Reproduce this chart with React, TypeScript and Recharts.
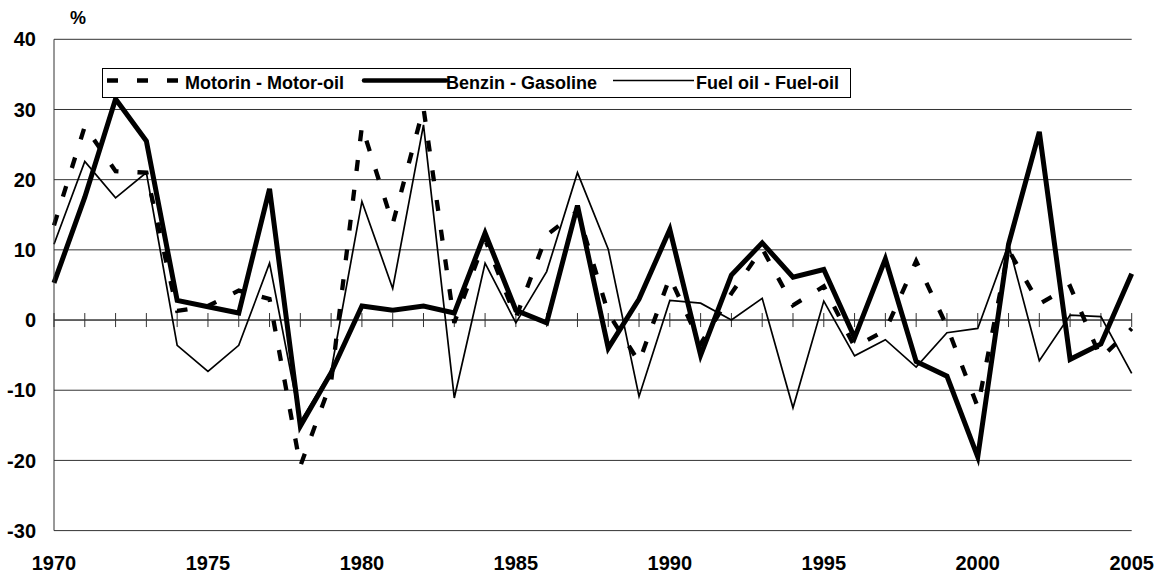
import { LineChart, Line, XAxis, YAxis, CartesianGrid, ReferenceLine, Legend, Label } from "recharts";

const FONT = '"Liberation Sans", Arial, sans-serif';

const years = [
  1970, 1971, 1972, 1973, 1974, 1975, 1976, 1977, 1978, 1979,
  1980, 1981, 1982, 1983, 1984, 1985, 1986, 1987, 1988, 1989,
  1990, 1991, 1992, 1993, 1994, 1995, 1996, 1997, 1998, 1999,
  2000, 2001, 2002, 2003, 2004, 2005,
];

const motorin = [
  13.5, 27.6, 21.2, 21.0, 1.3, 2.0, 4.2, 3.0, -20.8, -8.8,
  27.6, 13.7, 30.2, -0.4, 11.5, 0.3, 12.1, 15.5, 1.0, -6.0,
  6.1, -3.4, 3.8, 10.2, 2.1, 4.8, -3.8, -1.5, 8.4, -0.9,
  -12.4, 10.0, 2.3, 4.8, -5.4, -1.2,
];

const benzin = [
  5.3, 17.5, 31.5, 25.5, 2.8, 1.9, 1.0, 18.7, -15.1, -7.5,
  2.0, 1.4, 2.0, 1.0, 12.4, 1.4, -0.4, 16.3, -4.0, 3.0,
  12.9, -5.0, 6.4, 11.0, 6.1, 7.2, -2.5, 8.7, -5.9, -8.0,
  -19.5, 10.8, 26.8, -5.6, -3.4, 6.6,
];

const fuelOil = [
  10.8, 22.6, 17.4, 21.0, -3.6, -7.3, -3.6, 8.1, -14.5, -7.2,
  16.9, 4.5, 27.8, -11.1, 8.1, -0.4, 6.9, 21.0, 10.1, -10.9,
  2.8, 2.4, 0.0, 3.1, -12.5, 2.7, -5.1, -2.8, -6.7, -1.8,
  -1.2, 10.8, -5.8, 0.7, 0.5, -7.6,
];

const yearTicks = [1970, 1975, 1980, 1985, 1990, 1995, 2000, 2005];
const valueTicks = [-30, -20, -10, 0, 10, 20, 30, 40];

const seriesNames = ["Motorin - Motor-oil", "Benzin - Gasoline", "Fuel oil - Fuel-oil"];

const data = years.map((year, i) => ({
  year,
  motorin: motorin[i],
  benzin: benzin[i],
  fuelOil: fuelOil[i],
}));

// legend box drawn as one small svg, like the Excel original
function ChartLegend() {
  const textStyle = { fontFamily: FONT, fontWeight: "bold" as const, fontSize: 18, fill: "#000" };
  return (
    <svg width={750} height={31} style={{ display: "block" }}>
      <rect x={0.5} y={0.5} width={748} height={29} fill="#fff" stroke="#000" strokeWidth={1} />
      <line x1={5} x2={77} y1={12.5} y2={12.5} stroke="#000" strokeWidth={4.3} strokeDasharray="11 19" />
      <text x={83} y={20.5} style={textStyle}>{seriesNames[0]}</text>
      <line x1={262} x2={344} y1={12.5} y2={12.5} stroke="#000" strokeWidth={4.5} strokeLinecap="round" />
      <text x={344} y={20.5} style={textStyle}>{seriesNames[1]}</text>
      <line x1={511} x2={592} y1={12.5} y2={12.5} stroke="#000" strokeWidth={1.7} />
      <text x={594} y={20.5} style={textStyle}>{seriesNames[2]}</text>
    </svg>
  );
}

export default function App() {
  const tickStyle = { fontFamily: FONT, fontWeight: "bold", fontSize: 20, fill: "#000" };
  return (
    <div style={{ position: "absolute", left: 0, top: 0, background: "#fff" }}>
      <LineChart
        width={1165}
        height={575}
        data={data}
        margin={{ top: 39.3, right: 33.3, bottom: 0, left: 0 }}
      >
        <CartesianGrid vertical={false} stroke="#333" strokeWidth={1} />
        <XAxis
          dataKey="year"
          type="number"
          domain={[1970, 2005]}
          ticks={yearTicks}
          axisLine={false}
          tickLine={false}
          tickSize={0}
          tickMargin={25}
          height={44.4}
          tick={tickStyle}
        />
        <YAxis
          type="number"
          domain={[-30, 40]}
          ticks={valueTicks}
          width={54}
          axisLine={{ stroke: "#333", strokeWidth: 1 }}
          tickLine={false}
          tickSize={0}
          tickMargin={18}
          tick={tickStyle}
        >
          <Label
            content={() => (
              <text x={78} y={24} textAnchor="middle" style={{ fontFamily: FONT, fontWeight: "bold", fontSize: 18 }}>
                %
              </text>
            )}
          />
        </YAxis>
        <ReferenceLine y={0} stroke="#333" strokeWidth={1} />
        {years.map((yr) => (
          <ReferenceLine
            key={yr}
            segment={[{ x: yr, y: -1 }, { x: yr, y: 1 }]}
            stroke="#333"
            strokeWidth={1}
          />
        ))}
        <Line
          type="linear"
          dataKey="motorin"
          name={seriesNames[0]}
          stroke="#000"
          strokeWidth={4.3}
          strokeDasharray="11 19"
          dot={false}
          isAnimationActive={false}
        />
        <Line
          type="linear"
          dataKey="benzin"
          name={seriesNames[1]}
          stroke="#000"
          strokeWidth={5}
          dot={false}
          isAnimationActive={false}
        />
        <Line
          type="linear"
          dataKey="fuelOil"
          name={seriesNames[2]}
          stroke="#000"
          strokeWidth={1.7}
          dot={false}
          isAnimationActive={false}
        />
        <Legend
          layout="vertical"
          align="center"
          verticalAlign="middle"
          content={() => <ChartLegend />}
          wrapperStyle={{ left: 102, top: 68, width: 750, height: 31 }}
        />
      </LineChart>
    </div>
  );
}
